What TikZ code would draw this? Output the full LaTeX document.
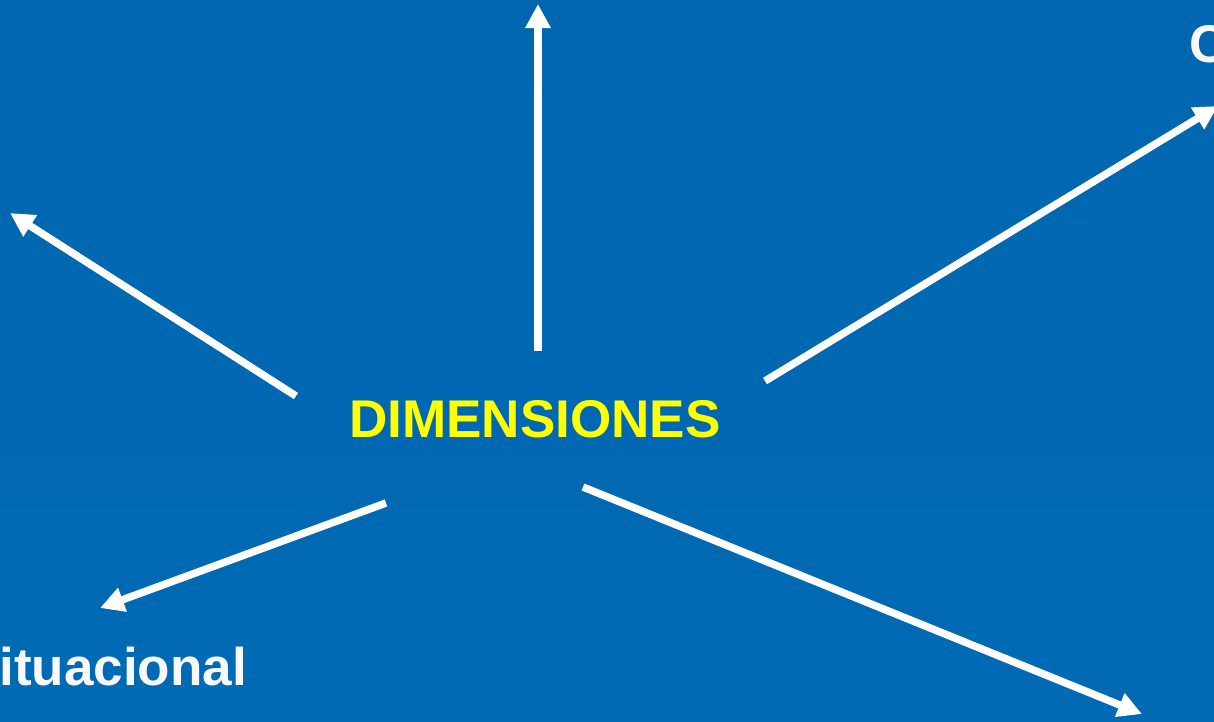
\documentclass[tikz,border=0pt]{standalone}
\usepackage{fontspec}
\setmainfont{Liberation Sans}
\usetikzlibrary{arrows.meta, positioning}
\definecolor{bgtop}{RGB}{0,102,175}
\definecolor{bgbot}{RGB}{0,106,180}
\definecolor{dimyellow}{RGB}{255,255,0}
\definecolor{lblwhite}{RGB}{248,248,248}

\begin{document}
\begin{tikzpicture}[x=0.02cm, y=-0.02cm,
    arrow/.style={draw=white, line width=0.15cm, -{Triangle[length=0.48cm, width=0.48cm]}},
    label text/.style={font=\fontsize{30.2}{31}\selectfont\bfseries, inner sep=0pt}]
    % Background
    \useasboundingbox (0,0) rectangle (1214,721);
    \clip (0,0) rectangle (1214,721);
    \shade[top color=bgtop, bottom color=bgbot] (0,0) rectangle (1214,721);

    % Nodes
    \node[label text, text=dimyellow, anchor=base] (dim) at (535,437) {DIMENSIONES};
    \node[label text, text=lblwhite, anchor=base west] (sit) at (-1,685) {ituacional};
    \node[label text, text=lblwhite, anchor=base west] (cog) at (1189,62) {C};

    % Ends
    \coordinate (s1) at (296,396);  \coordinate (e1) at (10,213);
    \coordinate (s2) at (538,351);  \coordinate (e2) at (538,4);
    \coordinate (s3) at (765,381);  \coordinate (e3) at (1218,106);
    \coordinate (s4) at (386,503);  \coordinate (e4) at (100,608);
    \coordinate (s5) at (583,487);  \coordinate (e5) at (1142,714);

    % Edges
    \draw[arrow] (s1) -- (e1);
    \draw[arrow] (s2) -- (e2);
    \draw[arrow] (s3) -- (e3);
    \draw[arrow] (s4) -- (e4);
    \draw[arrow] (s5) -- (e5);
\end{tikzpicture}
\end{document}
